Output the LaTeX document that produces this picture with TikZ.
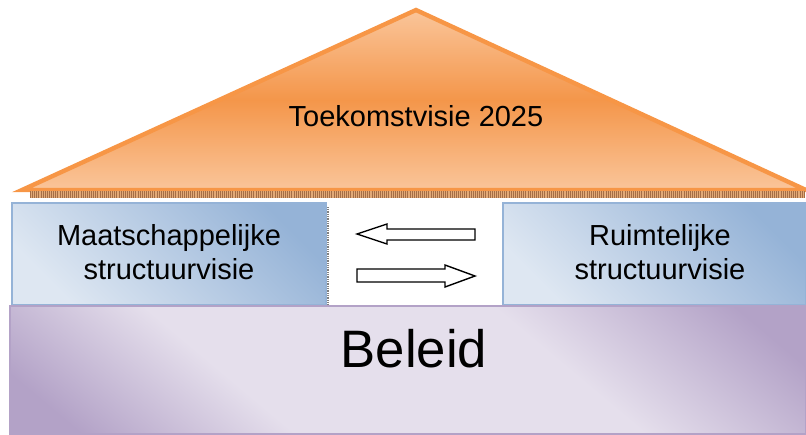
\documentclass[tikz,border=0pt]{standalone}
\usepackage{fontspec}
\setmainfont{Liberation Sans}

\definecolor{dakLicht}{RGB}{250,197,154}
\definecolor{dakDonker}{RGB}{244,150,74}
\definecolor{dakRand}{RGB}{247,150,70}
\definecolor{strookLicht}{RGB}{226,170,120}
\definecolor{strookDonker}{RGB}{165,110,70}
\definecolor{blauwLicht}{RGB}{222,231,242}
\definecolor{blauwDonker}{RGB}{149,179,215}
\definecolor{paarsLicht}{RGB}{229,223,236}
\definecolor{paarsDonker}{RGB}{179,162,199}

\pgfdeclareverticalshading{beleidkleur}{100bp}{color(0bp)=(paarsDonker); color(20bp)=(paarsDonker); color(36bp)=(paarsLicht); color(62bp)=(paarsLicht); color(80bp)=(paarsDonker); color(100bp)=(paarsDonker)}

\tikzset{
	pijl/.style={draw=black,fill=white,thick},
	blok/.style={draw=blauwDonker,thick,shading=axis,top color=blauwDonker,bottom color=blauwLicht,shading angle=-45},
	tekst/.style={align=center,font=\fontsize{16.5}{19.5}\selectfont}
}

\begin{document}
\begin{tikzpicture}[x=0.02cm,y=-0.02cm]

	\useasboundingbox (0,0) rectangle (806,434);

	% Dak
	\draw[draw=dakRand,line width=2.5pt,line join=miter,shading=axis,top color=dakLicht,bottom color=dakLicht,middle color=dakDonker]
		(22,190) -- (416,10) -- (806,190) -- cycle;
	\draw[strookLicht,line width=4pt] (30,194.5) -- (804,194.5);
	\draw[strookDonker,line width=4pt,dash pattern=on 0.5pt off 0.7pt] (30,194.5) -- (804,194.5);
	\node (dak) at (416,116) [tekst] {Toekomstvisie 2025};

	% Blokken
	\draw[blok] (12,203) rectangle (326,305);
	\draw[gray,dash pattern=on 0.5pt off 0.5pt,line width=1pt] (328,207) -- (328,305);
	\node (links) at (169,252) [tekst] {Maatschappelijke\\structuurvisie};

	\draw[blok] (503,203) rectangle (806,305);
	\node (rechts) at (660,252) [tekst] {Ruimtelijke\\structuurvisie};

	% Pijlen
	\draw[pijl] (357,234) -- (387,224) -- (387,229) -- (475,229) -- (475,240) -- (387,240) -- (387,244) -- cycle;
	\draw[pijl] (475,276) -- (445,265) -- (445,269) -- (357,269) -- (357,282) -- (445,282) -- (445,287) -- cycle;

	% Beleid
	\draw[draw=paarsDonker,thick,shading=beleidkleur,shading angle=-40]
		(10,306) rectangle (806,434);
	\node (beleid) at (414,367) [anchor=base,font=\fontsize{30}{36}\selectfont] {Beleid};

\end{tikzpicture}
\end{document}
